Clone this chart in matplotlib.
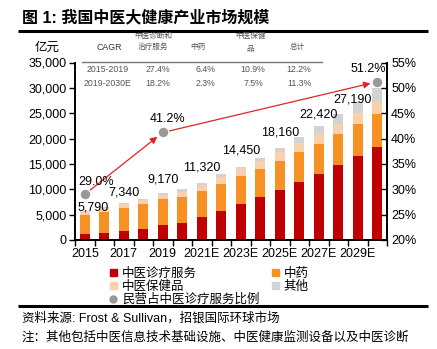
import matplotlib
matplotlib.use('Agg')
import matplotlib.pyplot as plt
from matplotlib.patches import Patch
from matplotlib.lines import Line2D
from matplotlib.ticker import FuncFormatter, FixedLocator

plt.rcParams['font.family'] = ['Liberation Sans', 'Noto Sans CJK SC']
plt.rcParams['axes.unicode_minus'] = False

# 市场规模（亿元）
years = ['2015', '2016', '2017', '2018', '2019', '2020', '2021E', '2022E',
         '2023E', '2024E', '2025E', '2026E', '2027E', '2028E', '2029E', '2030E']
tcm_services = [1150, 1440, 1830, 2230, 2890, 3410, 4470, 5780,
                7030, 8410, 9860, 11420, 13000, 14790, 16500, 18400]
tcm_medicine = [3740, 4100, 4540, 4800, 5130, 5130, 5260, 5320,
                5530, 5590, 5780, 5910, 5980, 6100, 6380, 6450]
tcm_health = [800, 780, 730, 860, 850, 990, 1170, 1380,
              1380, 1510, 1770, 1770, 1910, 2030, 2220, 2300]
others = [100, 180, 240, 260, 300, 470, 420, 470,
          510, 590, 750, 1270, 1530, 1860, 2090, 2770]

# 民营占中医诊疗服务比例
share_years = ['2015', '2019', '2030E']
share = [29.0, 41.2, 51.2]

# CAGR 表
cagr_periods = ['2015-2019', '2019-2030E']
cagr_services = ['27.4%', '18.2%']
cagr_medicine = ['6.4%', '2.3%']
cagr_health = ['10.9%', '7.5%']
cagr_total = ['12.2%', '11.3%']

c_red = '#C00000'
c_orange = '#F79125'
c_peach = '#FBD1AC'
c_gray = '#D3D3D3'
c_dot = '#999999'
c_arrow = '#E02424'

fig = plt.figure(figsize=(4.37, 3.49), dpi=100)
ax = fig.add_axes([75 / 437, 1 - 240 / 349, 312 / 437, 177.5 / 349])
ax2 = ax.twinx()

x = list(range(len(years)))
w = 0.52
bottom = [0] * len(years)
for vals, col in [(tcm_services, c_red), (tcm_medicine, c_orange),
                  (tcm_health, c_peach), (others, c_gray)]:
    ax.bar(x, vals, w, bottom=bottom, color=col, linewidth=0, zorder=2)
    bottom = [b + v for b, v in zip(bottom, vals)]
totals = bottom

ax.set_xlim(-0.5, len(years) - 0.5)
ax.set_ylim(0, 35000)
ax.set_yticks(range(0, 35001, 5000))
ax.yaxis.set_major_formatter(FuncFormatter(lambda v, p: f'{int(v):,}'))
ax.set_xticks(x[::2])
ax.set_xticklabels(years[::2])
ax.xaxis.set_minor_locator(FixedLocator([i - 0.5 for i in range(len(years) + 1)]))
ax.tick_params(axis='x', which='major', length=0, pad=6, labelsize=9)
ax.tick_params(axis='x', which='minor', length=4, width=1, direction='out')
ax.tick_params(axis='y', length=4, width=1, direction='out', labelsize=9, pad=2)

ax2.set_ylim(20, 55)
ax2.set_yticks(range(20, 56, 5))
ax2.yaxis.set_major_formatter(FuncFormatter(lambda v, p: f'{int(v)}%'))
ax2.tick_params(axis='y', length=4, width=1, direction='in', labelsize=9, pad=3)

for a in (ax, ax2):
    a.spines['top'].set_visible(False)
    for s in ('left', 'right', 'bottom'):
        a.spines[s].set_linewidth(1.2)

# 总规模标签
label_idx = [0, 2, 4, 6, 8, 10, 12, 14]
label_dx = [8, 0, 0, 0, 0, 0, 0, -5]
label_dy = [0, 7, 11, 12, 13, 12, 9, 0]
for i, dx, dy in zip(label_idx, label_dx, label_dy):
    ax.annotate(f'{totals[i]:,}', xy=(i, totals[i]), xytext=(dx, dy),
                textcoords='offset pixels', ha='center', va='baseline',
                fontsize=9, zorder=5)

# 民营占比
share_x = [years.index(y) for y in share_years]
ax2.plot(share_x, share, 'o', color=c_dot, markersize=6.8, zorder=6,
         markeredgewidth=0)
for k in range(len(share) - 1):
    ax2.annotate('', xy=(share_x[k + 1], share[k + 1]),
                 xytext=(share_x[k], share[k]),
                 arrowprops=dict(arrowstyle='-|>', color=c_arrow, lw=0.9,
                                 shrinkA=5, shrinkB=5, mutation_scale=10))
share_dx = [11, 5, -9]
share_dy = [9, 10, 10]
for xi, v, dx, dy in zip(share_x, share, share_dx, share_dy):
    ax2.annotate(f'{v:.1f}%', xy=(xi, v), xytext=(dx, dy),
                 textcoords='offset pixels', ha='center', va='baseline',
                 fontsize=9)

# 版面：标题、表格、图例、注释
ov = fig.add_axes([0, 0, 1, 1], zorder=10)
ov.set_xlim(0, 437)
ov.set_ylim(349, 0)
ov.axis('off')

ov.text(22, 17, '图 1: 我国中医大健康产业市场规模', fontsize=11.5,
        fontweight='bold', va='center', ha='left')
ov.plot([18, 428], [30.8, 30.8], color='black', lw=2.2, solid_capstyle='butt')
ov.text(47, 48, '亿元', fontsize=9, ha='center', va='center')

tc = '#555555'
tfont = dict(fontsize=5.5, color=tc, ha='center', va='center')
ov.text(109, 47, 'CAGR', family=['Liberation Sans Narrow', 'Liberation Sans'],
        fontsize=6.3, color='#333333', ha='center', va='center')
ov.text(153, 36, '中医诊断和', **tfont)
ov.text(153, 47, '治疗服务', **tfont)
ov.text(198, 47, '中药', **tfont)
ov.text(250, 36, '中医保健', **tfont)
ov.text(250, 49, '品', **tfont)
ov.text(297, 47, '总计', **tfont)
ov.plot([82, 322], [62.3, 62.3], color='#777777', lw=1.0)
col_x = [108, 158, 205, 253, 299]
row_y = [69.5, 83.5]
for r, ry in enumerate(row_y):
    cells = [cagr_periods[r], cagr_services[r], cagr_medicine[r],
             cagr_health[r], cagr_total[r]]
    for cx, s in zip(col_x, cells):
        ov.text(cx, ry, s, fontsize=6.3, color=tc, ha='center', va='center')

handles = [Patch(color=c_red), Patch(color=c_peach),
           Line2D([], [], marker='o', ls='none', color=c_dot, markersize=6,
                  markeredgewidth=0),
           Patch(color=c_orange), Patch(color=c_gray)]
names = ['中医诊疗服务', '中医保健品', '民营占中医诊疗服务比例', '中药', '其他']
fig.legend(handles, names, ncol=2, loc='upper left',
           bbox_to_anchor=(110 / 437, 1 - 268 / 349), frameon=False,
           fontsize=9, handlelength=0.55, handleheight=0.55,
           handletextpad=0.4, labelspacing=0.05, columnspacing=1.0,
           borderpad=0, borderaxespad=0)

ov.plot([18, 428], [306, 306], color='black', lw=2.2, solid_capstyle='butt')
ov.text(22, 318, '资料来源: Frost & Sullivan，招银国际环球市场', fontsize=9,
        ha='left', va='center')
ov.text(22, 338, '注：其他包括中医信息技术基础设施、中医健康监测设备以及中医诊断',
        fontsize=9, ha='left', va='center')

fig.savefig('out.png', dpi=100)
